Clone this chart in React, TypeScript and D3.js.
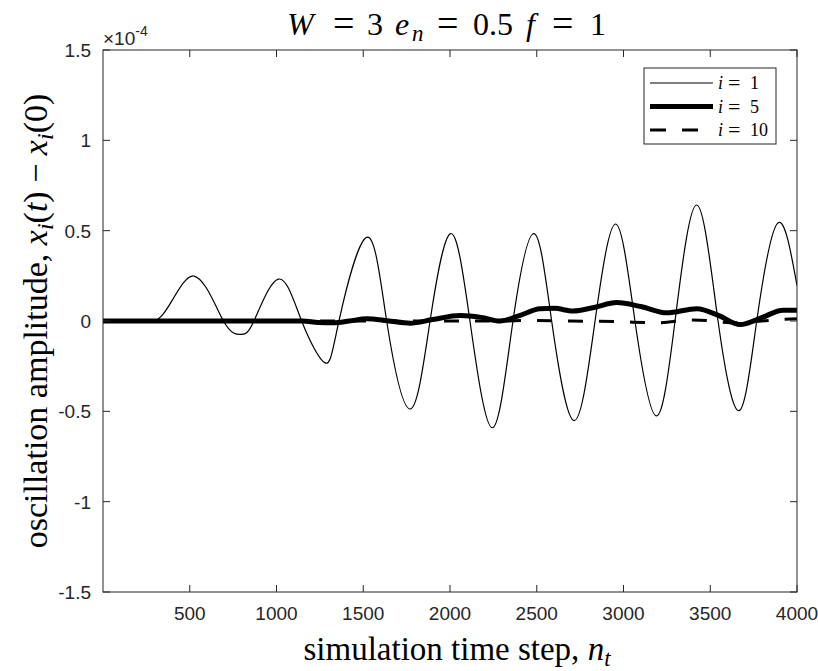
import { useEffect, useRef } from 'react'
import * as d3 from 'd3'

// i = 1: peaks, troughs and zero crossings
const stepsI1 = [0, 290, 521, 694, 797, 870, 1011, 1145, 1280, 1360, 1520, 1635, 1770, 1885, 2004, 2115, 2244, 2363, 2484, 2586, 2715, 2836, 2955, 3066, 3188, 3297, 3422, 3545, 3666, 3768, 3889, 4000]
const ampI1 = [0, 0, 0.25, 0, -0.074, 0, 0.232, 0, -0.232, 0, 0.463, 0, -0.487, 0, 0.484, 0, -0.591, 0, 0.484, 0, -0.551, 0, 0.537, 0, -0.525, 0, 0.642, 0, -0.496, 0, 0.542, 0.196]
const onsetI1 = 290
const firstPeakI1 = 521

// i = 5
const stepsI5 = [0, 1150, 1240, 1330, 1420, 1520, 1640, 1770, 1900, 2058, 2180, 2288, 2400, 2519, 2600, 2710, 2830, 2961, 3100, 3249, 3422, 3550, 3672, 3800, 3919, 4000]
const ampI5 = [0, 0, -0.008, -0.01, 0.0, 0.012, 0.002, -0.012, 0.008, 0.03, 0.02, 0.0, 0.03, 0.068, 0.07, 0.055, 0.075, 0.102, 0.08, 0.045, 0.068, 0.03, -0.02, 0.02, 0.06, 0.06]

// i = 10
const stepsI10 = [0, 2300, 2450, 2700, 2950, 3200, 3400, 3650, 3900, 4000]
const ampI10 = [0, 0, 0.003, 0.0, -0.003, -0.01, 0.006, -0.01, 0.008, 0.012]

const xTicks = [500, 1000, 1500, 2000, 2500, 3000, 3500, 4000]
const yTicks = [-1.5, -1, -0.5, 0, 0.5, 1, 1.5]
const legendLabels = ['1', '5', '10']

const W = 818
const H = 671
const L = 103
const R = 797
const T = 50
const B = 592

function App() {
  const ref = useRef<SVGSVGElement>(null)

  useEffect(() => {
    document.body.style.margin = '0'
    const svg = d3.select(ref.current)
    svg.selectAll('*').remove()

    const x = d3.scaleLinear().domain([0, 4000]).range([L, R])
    const y = d3.scaleLinear().domain([-1.5, 1.5]).range([B, T])
    const axisColor = '#262626'
    const tickFont = '"Liberation Sans", Arial, sans-serif'
    const serif = '"Liberation Serif", "Times New Roman", serif'

    const line = d3
      .line<[number, number]>()
      .x((d) => x(d[0]))
      .y((d) => y(d[1]))

    const defs = svg.append('defs')
    const clip = (id: string, x0: number, x1: number) =>
      defs.append('clipPath').attr('id', id).append('rect')
        .attr('x', x0).attr('y', T).attr('width', x1 - x0).attr('height', B - T)
    clip('plot-clip', L, R)
    clip('i1-start', L, x(firstPeakI1))
    clip('i1-rest', x(firstPeakI1), R)
    const plot = svg.append('g').attr('clip-path', 'url(#plot-clip)')

    // i = 1: monotone up to the first peak (smooth onset), natural spline after
    const p1 = stepsI1.map((s, k) => [s, ampI1[k]] as [number, number])
    const start1 = p1.filter((d) => d[0] <= 694)
    const osc1 = p1.filter((d) => d[0] >= onsetI1)
    plot.append('path').attr('d', line.curve(d3.curveMonotoneX)(start1))
      .attr('clip-path', 'url(#i1-start)')
      .attr('fill', 'none').attr('stroke', '#000').attr('stroke-width', 1.2)
    plot.append('path').attr('d', line.curve(d3.curveNatural)(osc1))
      .attr('clip-path', 'url(#i1-rest)')
      .attr('fill', 'none').attr('stroke', '#000').attr('stroke-width', 1.2)

    const p5 = stepsI5.map((s, k) => [s, ampI5[k]] as [number, number])
    plot.append('path').attr('d', line.curve(d3.curveMonotoneX)(p5))
      .attr('fill', 'none').attr('stroke', '#000').attr('stroke-width', 5)

    const p10 = stepsI10.map((s, k) => [s, ampI10[k]] as [number, number])
    plot.append('path').attr('d', line.curve(d3.curveMonotoneX)(p10))
      .attr('fill', 'none').attr('stroke', '#000').attr('stroke-width', 3)
      .attr('stroke-dasharray', '15 16')

    // frame and inward ticks on all four sides
    const frame = svg.append('g').attr('stroke', axisColor).attr('stroke-width', 1).attr('fill', 'none')
    frame.append('rect').attr('x', L).attr('y', T).attr('width', R - L).attr('height', B - T)
    const tl = 7
    xTicks.forEach((t) => {
      frame.append('line').attr('x1', x(t)).attr('x2', x(t)).attr('y1', B).attr('y2', B - tl)
      frame.append('line').attr('x1', x(t)).attr('x2', x(t)).attr('y1', T).attr('y2', T + tl)
    })
    yTicks.forEach((t) => {
      frame.append('line').attr('x1', L).attr('x2', L + tl).attr('y1', y(t)).attr('y2', y(t))
      frame.append('line').attr('x1', R).attr('x2', R - tl).attr('y1', y(t)).attr('y2', y(t))
    })

    const tickSize = 19
    svg.append('g').selectAll('text').data(xTicks).join('text')
      .attr('x', (d) => x(d)).attr('y', B + 28)
      .attr('text-anchor', 'middle').attr('font-family', tickFont).attr('font-size', tickSize)
      .attr('fill', axisColor).text((d) => String(d))
    svg.append('g').selectAll('text').data(yTicks).join('text')
      .attr('x', L - 12).attr('y', (d) => y(d)).attr('dy', '0.36em')
      .attr('text-anchor', 'end').attr('font-family', tickFont).attr('font-size', tickSize)
      .attr('fill', axisColor).text((d) => String(d))

    // exponent
    const ex = svg.append('text').attr('x', L).attr('y', 45).attr('font-family', tickFont)
      .attr('font-size', 19).attr('fill', axisColor)
    ex.append('tspan').text('\u00d710')
    ex.append('tspan').attr('font-size', 14).attr('dy', -9).text('-4')

    // title, LaTeX-like spacing around "="
    const title = svg.append('text').attr('y', 35)
      .attr('font-family', serif).attr('font-size', 32).attr('fill', '#000')
    const tparts: [string, number, boolean, number][] = [
      ['W', 287, true, 0], ['=', 333, false, 0], ['3', 367, false, 0],
      ['e', 395, true, 0], ['n', 412, true, 1], ['=', 437, false, 0],
      ['0.5', 473, false, 0], ['f', 526, true, 0], ['=', 552, false, 0], ['1', 590, false, 0],
    ]
    tparts.forEach(([s, px, it, sub]) => {
      const ts = title.append('tspan').attr('x', px).attr('y', sub ? 41 : 35).text(s)
      if (it) ts.attr('font-style', 'italic')
      if (sub) ts.attr('font-size', 23)
      if (s === '=') ts.attr('font-size', 38).attr('y', 36)
    })

    // x label
    const xl = svg.append('text').attr('x', 457).attr('y', 660)
      .attr('text-anchor', 'middle').attr('font-family', serif).attr('font-size', 33).attr('fill', '#000')
    xl.append('tspan').text('simulation time step, ')
    xl.append('tspan').attr('font-style', 'italic').text('n')
    xl.append('tspan').attr('font-style', 'italic').attr('font-size', 23).attr('dy', 6).text('t')

    // y label
    const yl = svg.append('text')
      .attr('transform', `translate(47, ${(T + B) / 2}) rotate(-90)`)
      .attr('text-anchor', 'middle').attr('font-family', serif).attr('font-size', 34).attr('fill', '#000')
    yl.append('tspan').text('oscillation amplitude, ')
    yl.append('tspan').attr('font-style', 'italic').text('x')
    yl.append('tspan').attr('font-style', 'italic').attr('font-size', 24).attr('dy', 6).text('i')
    yl.append('tspan').attr('dy', -6).text('(')
    yl.append('tspan').attr('font-style', 'italic').text('t')
    yl.append('tspan').text(') \u2212 ')
    yl.append('tspan').attr('font-style', 'italic').text('x')
    yl.append('tspan').attr('font-style', 'italic').attr('font-size', 24).attr('dy', 6).text('i')
    yl.append('tspan').attr('dy', -6).text('(0)')

    // legend
    const lg = svg.append('g')
    lg.append('rect').attr('x', 644).attr('y', 68).attr('width', 132).attr('height', 76)
      .attr('fill', '#fff').attr('stroke', axisColor).attr('stroke-width', 1)
    const widths = [1.2, 5, 3]
    legendLabels.forEach((lab, k) => {
      const ly = 83 + k * 23.5
      const ln = lg.append('line').attr('x1', 650).attr('x2', 713).attr('y1', ly).attr('y2', ly)
        .attr('stroke', '#000').attr('stroke-width', widths[k])
      if (k === 2) ln.attr('stroke-dasharray', '16 16')
      const tx = lg.append('text').attr('y', ly + 6).attr('font-family', serif)
        .attr('font-size', 18).attr('fill', '#000')
      tx.append('tspan').attr('x', 718).attr('font-style', 'italic').text('i')
      tx.append('tspan').attr('x', 728).attr('font-size', 22).attr('dy', 1).text('=')
      tx.append('tspan').attr('x', 750).attr('dy', -1).text(lab)
    })
  }, [])

  return <svg ref={ref} width={W} height={H} style={{ display: 'block', background: '#fff' }} />
}

export default App
